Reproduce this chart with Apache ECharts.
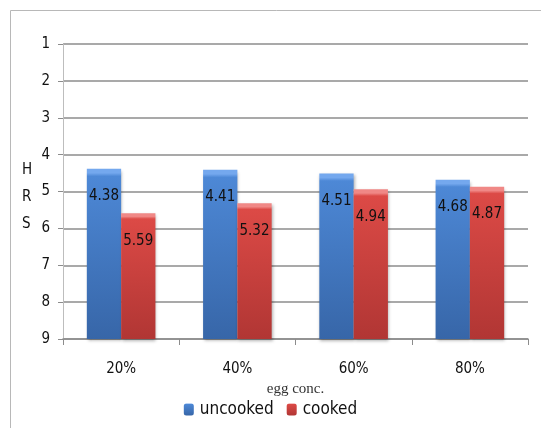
<!DOCTYPE html>
<html>
<head>
<meta charset="utf-8">
<script src="https://cdn.jsdelivr.net/npm/echarts@6/dist/echarts.min.js"></script>
<style>
  html, body { margin: 0; padding: 0; background: #ffffff; }
  #chart { width: 541px; height: 428px; }
</style>
</head>
<body>
<div id="chart"></div>
<script>
// Egg concentration groups and hours measured for each preparation
const categories = ['20%', '40%', '60%', '80%'];
const uncooked = [4.38, 4.41, 4.51, 4.68];
const cooked = [5.59, 5.32, 4.94, 4.87];
const hourTicks = [1, 2, 3, 4, 5, 6, 7, 8, 9];

const narrow = '"DejaVu Sans Condensed", "Liberation Sans Narrow", "DejaVu Sans", sans-serif';

// Vertical fill with a light bevel strip along the top edge
function barFill(bevel, top, bottom) {
  return new echarts.graphic.LinearGradient(0, 0, 0, 1, [
    { offset: 0, color: bevel },
    { offset: 0.025, color: bevel },
    { offset: 0.045, color: top },
    { offset: 1, color: bottom }
  ]);
}

const chart = echarts.init(document.getElementById('chart'), null, { renderer: 'canvas' });

const labelStyle = {
  show: true,
  position: 'insideTop',
  distance: 20,
  fontFamily: narrow,
  fontSize: 15,
  color: '#111111',
  formatter: p => p.value.toFixed(2)
};

chart.setOption({
  animation: false,
  backgroundColor: '#ffffff',
  graphic: [
    {
      type: 'rect',
      shape: { x: 10.5, y: 10.5, width: 560, height: 440 },
      style: { fill: 'none', stroke: '#b8b8b8', lineWidth: 1 },
      silent: true,
      z: -10
    },
    {
      // vertical axis title, one letter per line
      type: 'text',
      left: 22,
      top: 157,
      style: {
        text: 'H\nR\nS',
        fontFamily: narrow,
        fontSize: 15,
        lineHeight: 27,
        align: 'center',
        fill: '#111111'
      },
      silent: true
    }
  ],
  grid: { left: 63, right: 13, top: 44, bottom: 89 },
  legend: {
    bottom: 5,
    left: 'center',
    itemWidth: 10,
    itemHeight: 12,
    itemGap: 13,
    textStyle: { fontFamily: narrow, fontSize: 17, color: '#111111', padding: [0, 0, 0, 1] },
    data: ['uncooked', 'cooked']
  },
  xAxis: {
    type: 'category',
    data: categories,
    name: 'egg conc.',
    nameLocation: 'middle',
    nameGap: 40,
    nameTextStyle: { fontFamily: '"Liberation Serif", "Times New Roman", serif', fontSize: 15, color: '#333333' },
    axisLine: { lineStyle: { color: '#8c8c8c', width: 1.5 } },
    axisTick: { show: true, length: 6, alignWithLabel: false, lineStyle: { color: '#8c8c8c' } },
    axisLabel: { margin: 23, fontFamily: narrow, fontSize: 15, color: '#111111' }
  },
  yAxis: {
    type: 'value',
    inverse: true,
    min: 1,
    max: 9,
    interval: 1,
    startValue: 9,
    axisLine: { show: true, lineStyle: { color: '#bdbdbd', width: 1 } },
    axisTick: { show: true, length: 5, lineStyle: { color: '#8c8c8c' } },
    axisLabel: { margin: 13, fontFamily: narrow, fontSize: 15, color: '#111111',
      formatter: v => hourTicks.includes(v) ? String(v) : '' },
    splitLine: { show: true, lineStyle: { color: '#8c8c8c', width: 1.5 } }
  },
  series: [
    {
      name: 'uncooked',
      type: 'bar',
      data: uncooked,
      barGap: '0%',
      barCategoryGap: '41%',
      itemStyle: {
        color: barFill('#74a8ee', '#4d88d6', '#3766a8'),
        shadowColor: 'rgba(0,0,0,0.3)',
        shadowBlur: 3,
        shadowOffsetX: 1,
        shadowOffsetY: 2
      },
      label: labelStyle
    },
    {
      name: 'cooked',
      type: 'bar',
      data: cooked,
      itemStyle: {
        color: barFill('#f08886', '#dc4a46', '#b13634'),
        shadowColor: 'rgba(0,0,0,0.3)',
        shadowBlur: 3,
        shadowOffsetX: 1,
        shadowOffsetY: 2
      },
      label: labelStyle
    }
  ]
});
</script>
</body>
</html>
